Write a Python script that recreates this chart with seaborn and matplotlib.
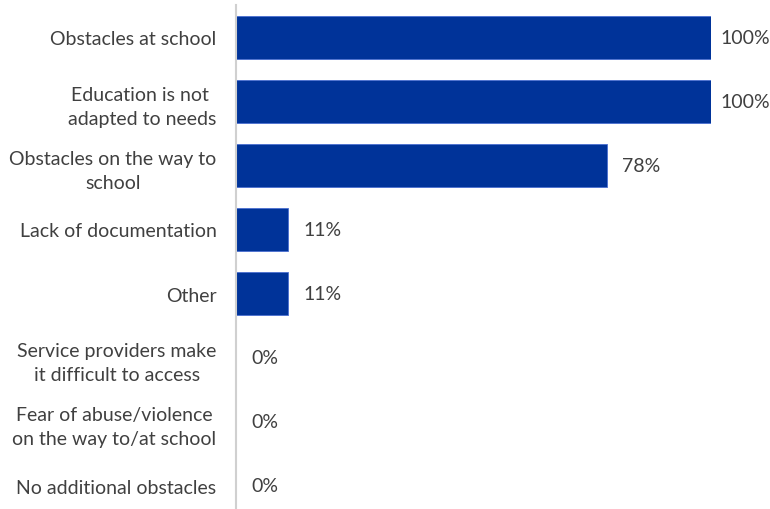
import matplotlib
matplotlib.use("Agg")
import matplotlib.pyplot as plt
import seaborn as sns
import pandas as pd

categories = [
    "Obstacles at school",
    "Education is not \nadapted to needs",
    "Obstacles on the way to\nschool",
    "Lack of documentation",
    "Other",
    "Service providers make\nit difficult to access",
    "Fear of abuse/violence\non the way to/at school",
    "No additional obstacles",
]
values = [100, 100, 78, 11, 11, 0, 0, 0]

df = pd.DataFrame({"category": categories, "value": values})

sns.set_theme(style="white")
plt.rcParams["font.family"] = ["Lato", "DejaVu Sans"]

text_color = "#404040"
bar_color = "#003399"

fig = plt.figure(figsize=(7.7, 5.1), dpi=100)
ax = fig.add_axes([236 / 770, -9 / 510, (711 - 236) / 770, 513 / 510])

sns.barplot(data=df, x="value", y="category", orient="h", color=bar_color,
            width=0.67, saturation=1, ax=ax, edgecolor="#4a6fd0", linewidth=0.6)

ax.set_xlim(0, 100)
ax.set_ylim(7.5, -0.5)
ax.set_xlabel("")
ax.set_ylabel("")
ax.set_xticks([])
for side in ["top", "right", "bottom"]:
    ax.spines[side].set_visible(False)
ax.spines["left"].set_color("#d0d0d0")
ax.spines["left"].set_linewidth(1.5)

ax.tick_params(axis="y", length=0, pad=14, labelsize=14, labelcolor=text_color)
for lbl in ax.get_yticklabels():
    lbl.set_horizontalalignment("right")
    lbl.set_multialignment("center")
    lbl.set_linespacing(1.5)

for i, v in enumerate(values):
    off = 6.5 if v >= 100 else 11
    ax.annotate(f"{v}%", xy=(v, i), xytext=(off, 0), textcoords="offset points",
                va="center", ha="left", fontsize=14, color=text_color,
                annotation_clip=False)

fig.savefig("out.png", dpi=100)
